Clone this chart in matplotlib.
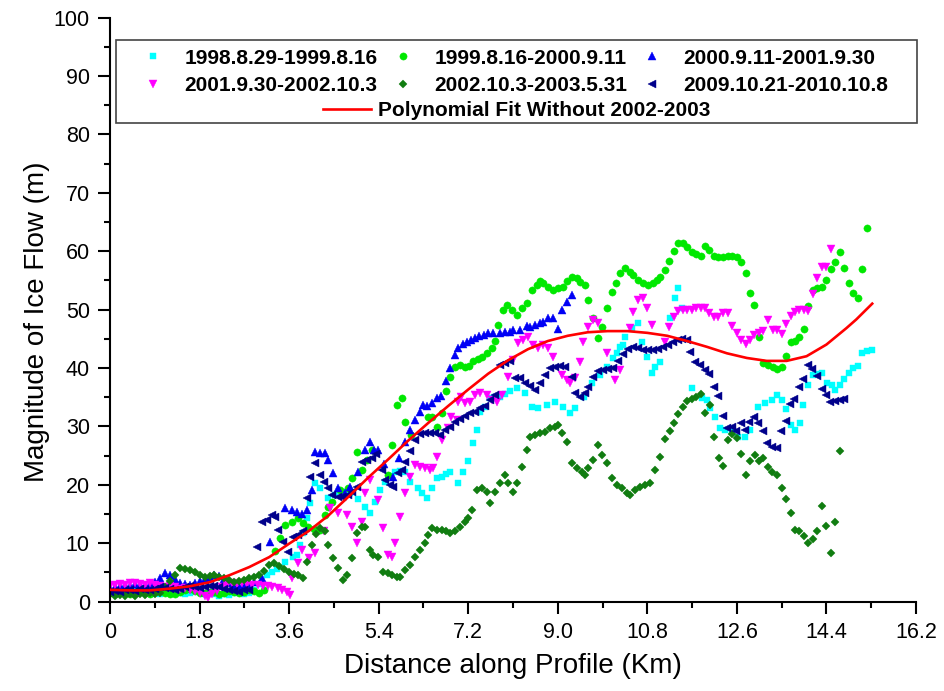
import matplotlib
matplotlib.use('Agg')
import matplotlib.pyplot as plt
from matplotlib.patches import Rectangle
from matplotlib.ticker import MultipleLocator

plt.rcParams['font.family'] = ['Liberation Sans', 'DejaVu Sans']

# ---------------- data (Distance km, Magnitude m) ----------------
cyan_pts = [(0.0,1.8),(0.1,1.6),(0.2,1.9),(0.3,1.5),(0.4,1.7),(0.5,2.0),(0.6,1.6),(0.7,1.4),(0.8,1.8),(0.9,1.5),
            (1.0,1.3),(1.1,1.6),(1.2,1.9),(1.3,1.7),(1.4,1.4),(1.5,1.2),(1.6,1.5),(1.7,1.8),(1.8,1.6),(1.9,1.3),
            (2.0,1.5),(2.1,1.2),(2.2,1.0),(2.3,1.3),(2.4,1.1),(2.5,1.4),(2.6,1.6),(2.7,1.2),(2.8,1.5),(2.9,2.0),
            (3.06,3.0),(3.16,4.5),(3.26,5.0),(3.36,5.6),(3.52,6.8),(3.68,7.6),(3.76,8.0),(3.82,9.7),(3.88,11.7),
            (3.96,14.3),(4.02,16.9),(4.12,20.3),(4.22,19.4),(4.38,17.7),(4.52,18.3),(4.66,18.8),(4.82,18.6),
            (4.98,17.5),(5.13,16.2),(5.23,15.2),(5.33,17.0),(5.43,19.1),(5.53,20.5),(5.63,21.5),(5.73,22.2),
            (5.83,22.4),(5.93,22.2),(6.03,20.5),(6.19,19.4),(6.28,18.5),(6.37,17.7),(6.47,19.4),(6.57,21.2),
            (6.67,21.3),(6.75,21.8),(6.83,22.2),(7.0,20.3),(7.1,22.2),(7.2,24.0),(7.3,27.2),(7.38,29.4),
            (7.44,32.5),(7.54,33.3),(7.64,34.9),(7.74,35.0),(7.84,35.0),(7.94,35.5),(8.04,36.0),(8.18,36.6),
            (8.34,35.7),(8.48,33.3),(8.6,33.2),(8.78,33.7),(8.94,34.2),(9.1,33.3),(9.25,32.3),(9.35,33.1),
            (9.52,35.0),(9.69,37.5),(9.85,38.8),(9.99,40.2),(10.11,41.7),(10.19,42.5),(10.25,43.5),(10.31,44.0),
            (10.35,45.3),(10.49,46.8),(10.61,47.7),(10.69,44.5),(10.79,41.9),(10.89,39.2),(10.95,40.2),
            (11.06,41.0),(11.26,48.6),(11.36,52.0),(11.42,53.7),(11.5,50.3),(11.7,36.6),(11.9,34.9),(12.0,34.5),
            (12.06,33.2),(12.16,31.6),(12.26,29.7),(12.36,29.4),(12.5,29.0),(12.62,28.2),(12.76,28.2),
            (12.86,29.4),(13.02,33.3),(13.17,34.0),(13.3,34.5),(13.4,35.4),(13.5,34.5),(13.59,33.0),(13.69,30.2),
            (13.77,29.4),(13.87,30.6),(13.93,33.7),(14.03,37.1),(14.13,38.8),(14.22,39.0),(14.31,39.2),
            (14.41,37.4),(14.51,37.1),(14.57,36.3),(14.67,37.1),(14.75,38.1),(14.85,39.2),(14.93,40.0),
            (15.03,40.4),(15.12,42.5),(15.22,42.9),(15.32,43.1)]

green_pts = [(0.0,1.5),(0.1,1.3),(0.2,1.6),(0.3,1.4),(0.4,1.2),(0.5,1.5),(0.6,1.7),(0.7,1.4),(0.8,1.3),(0.9,1.6),
             (1.0,1.8),(1.1,1.5),(1.2,1.3),(1.3,1.2),(1.4,1.6),(1.5,1.9),(1.6,2.1),(1.7,1.8),(1.8,1.5),(1.9,1.4),
             (2.0,1.7),(2.1,1.6),(2.2,1.3),(2.3,1.5),(2.4,1.8),(2.5,1.6),(2.6,1.4),(2.7,1.7),(2.8,2.0),(2.9,1.8),
             (3.0,1.5),(3.1,1.9),(3.32,8.6),(3.42,10.9),(3.52,13.1),(3.66,13.6),(3.78,14.3),(3.88,13.5),
             (3.98,12.8),(4.1,12.5),(4.22,12.3),(4.32,14.8),(4.38,16.2),(4.46,17.0),(4.62,19.1),(4.78,19.4),
             (4.86,21.2),(4.96,25.6),(5.06,22.5),(5.17,24.3),(5.27,26.0),(5.59,21.7),(5.67,26.8),(5.77,33.7),
             (5.87,34.9),(5.93,30.8),(6.05,28.5),(6.39,31.6),(6.47,31.6),(6.57,29.9),(6.67,32.3),(6.75,36.1),
             (6.83,38.5),(6.93,40.2),(7.03,40.5),(7.14,40.2),(7.22,40.3),(7.3,41.2),(7.4,41.6),(7.48,41.9),
             (7.58,42.5),(7.68,43.4),(7.74,44.6),(7.8,47.4),(7.9,49.9),(7.98,50.8),(8.08,49.9),(8.18,49.0),
             (8.28,50.3),(8.38,51.1),(8.48,53.4),(8.58,54.2),(8.64,54.8),(8.7,54.6),(8.8,53.9),(8.9,53.4),
             (9.0,53.7),(9.1,53.9),(9.19,54.8),(9.28,55.6),(9.39,55.4),(9.45,54.7),(9.55,54.2),(9.6,51.7),
             (9.71,48.6),(9.81,45.1),(9.89,47.0),(9.99,50.3),(10.09,53.0),(10.17,54.6),(10.25,56.3),(10.35,57.1),
             (10.45,56.5),(10.51,55.9),(10.61,55.1),(10.71,54.6),(10.81,54.2),(10.91,54.6),(10.99,55.1),
             (11.06,55.6),(11.16,56.8),(11.24,58.3),(11.34,60.0),(11.42,61.4),(11.52,61.4),(11.6,60.7),
             (11.7,59.9),(11.78,59.5),(11.88,59.2),(11.96,60.9),(12.04,60.2),(12.14,59.2),(12.22,59.0),
             (12.32,59.0),(12.42,59.2),(12.5,59.2),(12.6,59.0),(12.68,58.2),(12.78,56.3),(12.86,52.9),
             (12.94,50.8),(13.05,45.3),(13.13,40.9),(13.23,40.5),(13.33,40.2),(13.41,39.8),(13.51,40.2),
             (13.59,42.1),(13.69,44.5),(13.77,44.6),(13.85,45.3),(13.95,46.7),(14.03,50.6),(14.13,53.4),
             (14.21,53.7),(14.31,53.9),(14.39,55.1),(14.49,57.0),(14.57,58.2),(14.67,59.8),(14.75,57.1),
             (14.85,54.6),(14.93,52.9),(15.03,52.0),(15.12,57.0),(15.22,64.0)]

blue_pts = [(0.0,2.3),(0.1,2.5),(0.2,2.6),(0.3,2.8),(0.4,2.7),(0.5,3.0),(0.6,2.8),(0.7,2.9),(0.8,3.0),(0.9,3.4),
            (1.0,4.0),(1.1,4.9),(1.2,4.6),(1.3,3.8),(1.4,3.2),(1.5,3.0),(1.6,2.9),(1.7,3.1),(1.8,3.5),(1.9,3.8),
            (2.0,4.2),(2.1,4.5),(2.2,4.4),(2.3,3.8),(2.4,3.2),(2.5,2.9),(2.6,2.7),(2.7,2.8),(2.8,3.0),(2.9,3.4),
            (3.06,4.0),(3.22,10.2),(3.52,16.0),(3.66,15.7),(3.76,15.3),(3.86,15.0),(3.96,15.7),(4.06,19.1),
            (4.12,25.6),(4.22,25.4),(4.32,25.4),(4.38,24.2),(4.48,22.0),(4.58,19.4),(4.72,18.6),(4.82,19.6),
            (4.98,22.2),(5.13,26.0),(5.23,27.3),(5.3,26.0),(5.39,26.0),(5.5,23.5),(5.69,21.3),(5.8,24.5),
            (5.93,27.3),(6.03,29.4),(6.13,31.1),(6.23,32.5),(6.29,33.7),(6.37,33.5),(6.47,34.0),(6.57,34.9),
            (6.65,35.2),(6.75,37.8),(6.83,40.0),(6.93,42.2),(7.0,43.4),(7.1,44.1),(7.18,44.5),(7.26,44.8),
            (7.34,45.1),(7.42,45.5),(7.52,45.7),(7.6,46.0),(7.7,46.0),(7.84,46.0),(7.94,46.2),(8.04,46.2),
            (8.1,46.5),(8.24,46.5),(8.38,47.2),(8.44,47.0),(8.54,47.4),(8.64,47.7),(8.7,47.9),(8.8,48.5),
            (8.9,48.5),(9.0,46.6),(9.08,49.9),(9.18,51.3),(9.28,52.5)]

magenta_pts = [(0.0,2.6),(0.1,2.8),(0.2,3.0),(0.3,2.9),(0.4,3.1),(0.5,3.2),(0.6,3.0),(0.7,2.8),(0.8,3.1),(0.9,2.9),
               (1.0,2.7),(1.1,2.5),(1.2,2.6),(1.3,2.4),(1.4,2.2),(1.5,2.3),(1.6,2.0),(1.7,1.8),(1.8,1.4),(1.9,1.0),
               (1.97,0.6),(2.05,1.2),(2.15,1.8),(2.25,2.4),(2.35,2.8),(2.45,3.2),(2.55,3.0),(2.65,3.1),(2.75,3.0),
               (2.85,2.9),(2.97,2.8),(3.07,2.7),(3.17,2.6),(3.26,2.5),(3.37,2.3),(3.46,2.0),(3.55,1.6),(3.62,1.1),
               (3.66,4.0),(3.78,6.6),(3.86,8.8),(4.0,7.5),(4.12,8.3),(4.3,12.0),(4.42,16.0),(4.58,15.2),(4.76,14.8),
               (4.86,12.8),(4.96,10.0),(5.06,13.6),(5.13,18.6),(5.23,20.8),(5.39,17.4),(5.49,12.6),(5.59,8.0),
               (5.67,7.6),(5.73,10.0),(5.83,14.5),(5.93,18.5),(6.03,21.3),(6.13,23.4),(6.23,23.0),(6.33,22.8),
               (6.43,22.6),(6.49,22.8),(6.57,24.8),(6.67,27.7),(6.79,29.7),(6.85,31.6),(6.97,31.1),(7.0,34.2),
               (7.05,35.0),(7.14,34.0),(7.24,34.2),(7.34,35.4),(7.44,35.7),(7.58,35.4),(7.68,34.5),(7.78,34.2),
               (7.88,35.4),(8.0,38.5),(8.1,41.4),(8.2,44.2),(8.3,44.8),(8.4,45.3),(8.5,44.0),(8.6,43.4),(8.7,44.0),
               (8.8,43.4),(8.9,41.9),(9.08,38.8),(9.18,38.0),(9.25,37.5),(9.35,38.3),(9.45,41.0),(9.51,44.5),
               (9.6,47.0),(9.71,48.2),(9.81,47.7),(9.99,42.5),(10.15,38.0),(10.25,39.7),(10.45,46.8),(10.51,49.6),
               (10.61,51.7),(10.71,52.0),(10.79,50.3),(10.89,47.4),(11.16,44.5),(11.24,47.0),(11.34,48.8),
               (11.42,49.8),(11.52,50.0),(11.6,50.0),(11.7,50.0),(11.78,50.3),(11.88,50.3),(11.96,50.3),
               (12.04,49.4),(12.14,48.8),(12.22,48.8),(12.32,49.4),(12.42,49.4),(12.5,47.2),(12.6,46.0),
               (12.68,44.8),(12.78,44.1),(12.86,44.8),(12.94,45.7),(13.05,46.0),(13.13,46.4),(13.23,48.2),
               (13.33,46.5),(13.41,46.5),(13.51,45.8),(13.59,47.6),(13.69,48.9),(13.77,49.6),(13.85,50.0),
               (13.95,50.0),(14.03,49.8),(14.13,52.7),(14.21,55.4),(14.31,57.3),(14.39,57.3),(14.49,60.4)]

dkgreen_pts = [(0.0,1.2),(0.1,1.0),(0.2,1.1),(0.3,0.9),(0.4,1.2),(0.5,1.0),(0.6,1.3),(0.7,1.1),(0.8,1.4),(0.9,1.2),
               (1.0,1.5),(1.1,2.5),(1.2,3.5),(1.3,4.5),(1.4,5.7),(1.5,5.6),(1.6,5.4),(1.7,5.0),(1.8,4.5),(1.9,4.2),
               (2.0,4.3),(2.1,4.5),(2.2,4.2),(2.3,4.0),(2.4,3.6),(2.5,3.3),(2.6,3.5),(2.7,3.7),(2.8,4.0),(2.9,4.2),
               (3.0,4.5),(3.1,5.3),(3.2,6.3),(3.3,6.6),(3.4,6.0),(3.5,5.5),(3.6,5.0),(3.7,4.7),(3.78,4.5),(3.88,4.0),
               (3.96,6.8),(4.06,9.7),(4.14,11.5),(4.22,12.6),(4.32,12.0),(4.38,9.7),(4.48,7.5),(4.58,5.7),(4.68,3.7),
               (4.76,4.5),(4.86,7.5),(4.96,11.7),(5.06,12.8),(5.13,12.8),(5.23,8.8),(5.29,8.0),(5.39,7.6),(5.49,5.1),
               (5.59,4.9),(5.67,4.5),(5.77,4.2),(5.83,4.2),(5.93,5.4),(6.03,6.3),(6.13,7.6),(6.23,8.8),(6.33,10.0),
               (6.39,11.4),(6.47,12.6),(6.57,12.3),(6.67,12.3),(6.75,12.0),(6.83,11.7),(6.93,12.0),(7.03,12.8),
               (7.14,13.6),(7.2,14.3),(7.28,15.7),(7.38,19.1),(7.48,19.4),(7.58,18.8),(7.64,16.9),(7.74,18.8),
               (7.84,20.3),(7.94,21.7),(8.0,20.3),(8.1,18.8),(8.18,20.3),(8.28,23.1),(8.38,26.0),(8.44,28.2),
               (8.54,28.5),(8.64,28.9),(8.74,29.0),(8.84,29.7),(8.94,29.9),(9.0,30.2),(9.08,28.9),(9.18,27.3),
               (9.28,23.7),(9.38,22.8),(9.48,22.2),(9.55,21.7),(9.6,22.8),(9.71,24.2),(9.81,26.8),(9.89,25.1),
               (9.99,23.7),(10.09,21.2),(10.19,20.0),(10.29,19.4),(10.39,18.6),(10.45,18.3),(10.55,19.1),
               (10.65,19.6),(10.75,20.0),(10.85,20.3),(10.95,22.5),(11.06,24.8),(11.16,27.8),(11.26,29.2),
               (11.34,30.6),(11.42,32.1),(11.52,33.3),(11.6,34.3),(11.7,34.7),(11.78,35.0),(11.88,35.5),
               (11.96,32.3),(12.06,33.7),(12.14,28.2),(12.24,24.6),(12.32,23.2),(12.42,27.7),(12.5,28.7),
               (12.6,28.0),(12.68,25.3),(12.78,21.7),(12.86,24.1),(12.96,25.1),(13.05,24.1),(13.13,24.6),
               (13.23,23.0),(13.31,22.2),(13.41,21.7),(13.51,19.4),(13.59,17.6),(13.69,15.2),(13.77,12.3),
               (13.85,12.0),(13.95,11.2),(14.03,10.0),(14.13,10.7),(14.21,12.1),(14.31,16.4),(14.39,13.0),
               (14.49,8.3),(14.57,13.6),(14.67,25.8)]

navy_pts = [(0.0,1.6),(0.1,1.8),(0.2,1.7),(0.3,1.9),(0.4,2.0),(0.5,1.8),(0.6,2.1),(0.7,2.0),(0.8,1.9),(0.9,2.2),
            (1.0,2.4),(1.1,2.3),(1.2,2.1),(1.3,2.0),(1.4,2.2),(1.5,2.5),(1.6,2.6),(1.7,2.4),(1.8,2.3),(1.9,2.5),
            (2.0,2.7),(2.1,2.6),(2.2,2.4),(2.3,2.2),(2.4,2.0),(2.5,1.8),(2.6,1.7),(2.7,1.9),(2.8,2.0),
            (2.95,9.4),(3.06,13.6),(3.16,14.0),(3.26,14.8),(3.32,14.5),(3.38,12.3),(3.48,10.2),(3.58,8.5),
            (3.68,11.0),(3.78,11.4),(3.88,12.0),(3.96,17.7),(4.02,21.3),(4.12,23.7),(4.22,21.7),(4.3,20.5),
            (4.38,19.4),(4.46,18.3),(4.58,17.9),(4.66,17.9),(4.78,18.3),(4.86,18.8),(4.96,19.6),(5.06,23.9),
            (5.17,24.2),(5.27,24.6),(5.35,25.2),(5.47,22.5),(5.53,20.8),(5.63,20.0),(5.69,19.6),(5.79,22.0),
            (5.87,22.5),(5.93,23.9),(6.03,25.8),(6.13,27.6),(6.23,28.7),(6.33,28.9),(6.43,28.9),(6.53,28.8),
            (6.63,28.5),(6.73,29.4),(6.83,29.8),(6.93,30.7),(7.03,31.2),(7.14,31.8),(7.24,32.3),(7.34,32.5),
            (7.44,33.1),(7.54,33.5),(7.64,34.5),(7.74,35.4),(7.84,40.5),(7.94,40.8),(8.04,41.2),(8.14,38.2),
            (8.24,38.3),(8.34,37.4),(8.44,36.9),(8.54,36.2),(8.64,37.4),(8.74,38.8),(8.84,40.0),(8.94,40.2),
            (9.05,40.4),(9.15,40.2),(9.28,38.4),(9.35,35.7),(9.45,35.0),(9.55,35.7),(9.6,36.8),(9.71,38.4),
            (9.81,39.5),(9.91,39.7),(10.01,39.8),(10.11,40.0),(10.21,41.2),(10.31,42.3),(10.41,43.2),(10.51,43.6),
            (10.61,43.4),(10.71,43.1),(10.81,43.1),(10.91,43.1),(11.01,43.3),(11.12,43.6),(11.22,44.0),
            (11.32,44.4),(11.42,44.8),(11.5,45.0),(11.6,44.8),(11.66,42.8),(11.76,41.0),(11.86,40.5),
            (11.96,39.6),(12.04,39.0),(12.14,36.8),(12.22,35.2),(12.32,31.8),(12.4,29.7),(12.5,29.9),
            (12.58,29.2),(12.68,30.6),(12.76,29.4),(12.84,30.8),(12.94,31.6),(13.02,30.6),(13.13,29.2),
            (13.21,27.1),(13.31,26.5),(13.41,26.3),(13.49,29.2),(13.59,30.9),(13.67,33.8),(13.75,34.7),
            (13.85,36.8),(13.93,38.1),(14.03,40.5),(14.11,39.8),(14.21,38.6),(14.31,36.4),(14.39,35.4),
            (14.47,34.2),(14.57,34.4),(14.67,34.5),(14.75,34.7)]

fit_x = [0.0,0.4,0.8,1.2,1.6,2.0,2.4,2.8,3.2,3.6,4.0,4.4,4.8,5.2,5.6,6.0,6.4,6.8,7.2,7.6,8.0,8.4,8.8,9.2,9.6,
         10.0,10.4,10.8,11.2,11.6,12.0,12.4,12.8,13.2,13.6,14.0,14.4,14.8,15.0,15.32]
fit_y = [2.0,1.9,1.9,2.2,2.6,3.3,4.5,5.9,7.6,9.9,12.1,14.8,18.0,21.3,24.4,27.6,30.6,33.5,36.3,39.0,41.3,43.2,
         44.6,45.5,46.1,46.3,46.3,46.0,45.5,44.6,43.6,42.5,41.7,41.2,41.2,42.0,44.0,46.8,48.3,51.0]

series_labels = ['1998.8.29-1999.8.16', '1999.8.16-2000.9.11', '2000.9.11-2001.9.30',
                 '2001.9.30-2002.10.3', '2002.10.3-2003.5.31', '2009.10.21-2010.10.8']
fit_label = 'Polynomial Fit Without 2002-2003'

xtick_vals = [0, 1.8, 3.6, 5.4, 7.2, 9.0, 10.8, 12.6, 14.4, 16.2]
xtick_labels = ['0', '1.8', '3.6', '5.4', '7.2', '9.0', '10.8', '12.6', '14.4', '16.2']
ytick_vals = [0, 10, 20, 30, 40, 50, 60, 70, 80, 90, 100]
ytick_labels = ['0', '10', '20', '30', '40', '50', '60', '70', '80', '90', '100']

# ---------------- figure ----------------
W, H = 945, 691
fig = plt.figure(figsize=(W / 100, H / 100), dpi=100)
ax = fig.add_axes([110 / W, 1 - 601.5 / H, (916 - 110) / W, (601.5 - 17.5) / H])

styles = [
    (cyan_pts, 's', 4.4, '#00ffff'),
    (green_pts, 'o', 5.2, '#00e800'),
    (blue_pts, '^', 5.4, '#0000f5'),
    (magenta_pts, 'v', 5.4, '#ff00ff'),
    (dkgreen_pts, 'D', 4.0, '#117d11'),
    (navy_pts, '<', 5.4, '#00008b'),
]
handles = []
for (pts, mk, ms, col), lab in zip(styles, series_labels):
    xs = [p[0] for p in pts]
    ys = [p[1] for p in pts]
    h, = ax.plot(xs, ys, ls='none', marker=mk, ms=ms, color=col, mec=col, mew=0.3, label=lab)
    handles.append(h)

fit_line, = ax.plot(fit_x, fit_y, color='#ff0000', lw=1.9, label=fit_label, zorder=5)

ax.set_xlim(0, 16.2)
ax.set_ylim(0, 100)
ax.set_xticks(xtick_vals)
ax.set_xticklabels(xtick_labels)
ax.set_yticks(ytick_vals)
ax.set_yticklabels(ytick_labels)
ax.xaxis.set_minor_locator(MultipleLocator(0.9))
ax.yaxis.set_minor_locator(MultipleLocator(5))
ax.tick_params(which='major', direction='out', length=8.5, width=1.5, labelsize=15.5, pad=6)
ax.tick_params(which='minor', direction='out', length=4.5, width=1.5)
for s in ['top', 'right']:
    ax.spines[s].set_visible(False)
for s in ['left', 'bottom']:
    ax.spines[s].set_linewidth(1.5)

fig.text(513 / W, 1 - 666 / H, 'Distance along Profile (Km)', ha='center', va='center', fontsize=20)
fig.text(37 / W, 1 - 322 / H, 'Magnitude of Ice Flow (m)', ha='center', va='center',
         rotation=90, fontsize=20)

# ---------------- legend ----------------
order = [0, 3, 1, 4, 2, 5]
leg_prop = dict(weight='bold', size=15)
leg1 = fig.legend([handles[i] for i in order], [series_labels[i] for i in order], ncol=3,
                  loc='upper left', bbox_to_anchor=(141 / W, 1 - 48.5 / H), frameon=False, prop=leg_prop,
                  handlelength=1.2, handletextpad=0.9, columnspacing=0.6, labelspacing=0.4,
                  borderpad=0, borderaxespad=0)
leg2 = fig.legend([fit_line], [fit_label], loc='upper center', bbox_to_anchor=(516.5 / W, 1 - 101 / H),
                  frameon=False, prop=leg_prop, handlelength=2.3, handletextpad=0.35,
                  borderpad=0, borderaxespad=0)
fig.add_artist(Rectangle((116 / W, 1 - 123 / H), (917 - 116) / W, (123 - 40) / H,
                         transform=fig.transFigure, fill=False, lw=1.2, ec='#444444'))

fig.savefig('out.png', dpi=100)
